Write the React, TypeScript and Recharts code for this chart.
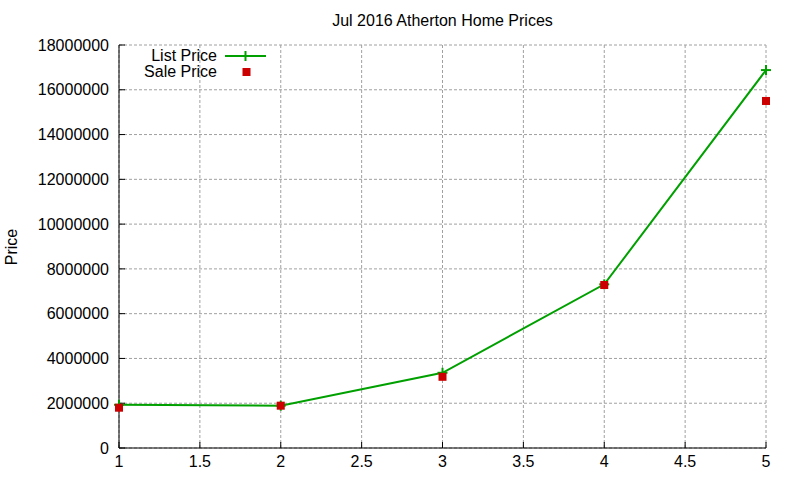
import React from 'react';
import { LineChart, Line, XAxis, YAxis, CartesianGrid } from 'recharts';

// data
const houseCounts = [1, 2, 3, 4, 5];
const listPrices = [1930000, 1890000, 3360000, 7310000, 16880000];
const salePrices = [1800000, 1890000, 3180000, 7280000, 15500000];

const xTicks = [1, 1.5, 2, 2.5, 3, 3.5, 4, 4.5, 5];
const yTicks = [0, 2000000, 4000000, 6000000, 8000000, 10000000, 12000000, 14000000, 16000000, 18000000];

const chartData = houseCounts.map((x, i) => ({
  x,
  list: listPrices[i],
  sale: salePrices[i],
}));

const GREEN = '#00a000';
const RED = '#cc0000';
const FONT = '"Liberation Sans", Arial, sans-serif';

const PlusDot = (props: any) => {
  const { cx, cy } = props;
  if (cx == null || cy == null) return null;
  return (
    <g>
      <line x1={cx - 5} x2={cx + 5} y1={cy} y2={cy} stroke={GREEN} strokeWidth={2} />
      <line x1={cx} x2={cx} y1={cy - 5} y2={cy + 5} stroke={GREEN} strokeWidth={2} />
    </g>
  );
};

const SquareDot = (props: any) => {
  const { cx, cy } = props;
  if (cx == null || cy == null) return null;
  return <rect x={cx - 4} y={cy - 4} width={8} height={8} fill={RED} />;
};

const tickStyle = { fontSize: 16, fill: '#000', fontFamily: FONT };
const blank = () => '';

export default function App() {
  return (
    <div style={{ position: 'absolute', left: 0, top: 0, width: 800, height: 480, background: '#fff', fontFamily: FONT }}>
      <LineChart
        width={800}
        height={480}
        data={chartData}
        margin={{ top: 45, right: 34, bottom: 0, left: 0 }}
      >
        <CartesianGrid
          xAxisId="main"
          yAxisId="main"
          stroke="#a0a0a0"
          strokeDasharray="3 2"
        />
        <XAxis
          xAxisId="main"
          dataKey="x"
          type="number"
          domain={[1, 5]}
          ticks={xTicks}
          height={32}
          tick={tickStyle}
          tickSize={-6}
          tickMargin={14}
          axisLine={{ stroke: '#000' }}
          tickLine={{ stroke: '#000' }}
        />
        <XAxis
          xAxisId="top"
          orientation="top"
          dataKey="x"
          type="number"
          domain={[1, 5]}
          ticks={xTicks}
          height={0}
          tickFormatter={blank}
          tickSize={-6}
          axisLine={{ stroke: '#000' }}
          tickLine={{ stroke: '#000' }}
        />
        <YAxis
          yAxisId="main"
          type="number"
          domain={[0, 18000000]}
          ticks={yTicks}
          width={119}
          tick={tickStyle}
          tickSize={-6}
          tickMargin={16}
          axisLine={{ stroke: '#000' }}
          tickLine={{ stroke: '#000' }}
        />
        <YAxis
          yAxisId="right"
          orientation="right"
          type="number"
          domain={[0, 18000000]}
          ticks={yTicks}
          width={0}
          tickFormatter={blank}
          tickSize={-6}
          axisLine={{ stroke: '#000' }}
          tickLine={{ stroke: '#000' }}
        />
        <Line
          xAxisId="main"
          yAxisId="main"
          dataKey="list"
          name="List Price"
          type="linear"
          stroke={GREEN}
          strokeWidth={2}
          dot={<PlusDot />}
          activeDot={false}
          isAnimationActive={false}
        />
        <Line
          xAxisId="main"
          yAxisId="main"
          dataKey="sale"
          name="Sale Price"
          type="linear"
          stroke="none"
          dot={<SquareDot />}
          activeDot={false}
          isAnimationActive={false}
        />
      </LineChart>

      {/* title */}
      <div style={{ position: 'absolute', left: 119, width: 647, top: 11, textAlign: 'center', fontSize: 16, lineHeight: '20px' }}>
        Jul 2016 Atherton Home Prices
      </div>

      {/* y axis label */}
      <div
        style={{
          position: 'absolute',
          left: 12,
          top: 247,
          fontSize: 16,
          lineHeight: '20px',
          transform: 'translate(-50%, -50%) rotate(-90deg)',
          whiteSpace: 'nowrap',
        }}
      >
        Price
      </div>

      {/* legend */}
      <div style={{ position: 'absolute', left: 100, top: 48, fontSize: 16, lineHeight: '16px' }}>
        <div style={{ display: 'flex', alignItems: 'center', height: 16 }}>
          <span style={{ width: 117, textAlign: 'right' }}>List Price</span>
          <svg width={50} height={16} style={{ marginLeft: 8 }}>
            <line x1={0} x2={41} y1={8} y2={8} stroke={GREEN} strokeWidth={2} />
            <line x1={20.5} x2={20.5} y1={3} y2={13} stroke={GREEN} strokeWidth={2} />
          </svg>
        </div>
        <div style={{ display: 'flex', alignItems: 'center', height: 16 }}>
          <span style={{ width: 117, textAlign: 'right' }}>Sale Price</span>
          <svg width={50} height={16} style={{ marginLeft: 8 }}>
            <rect x={17.5} y={4} width={8} height={8} fill={RED} />
          </svg>
        </div>
      </div>
    </div>
  );
}
